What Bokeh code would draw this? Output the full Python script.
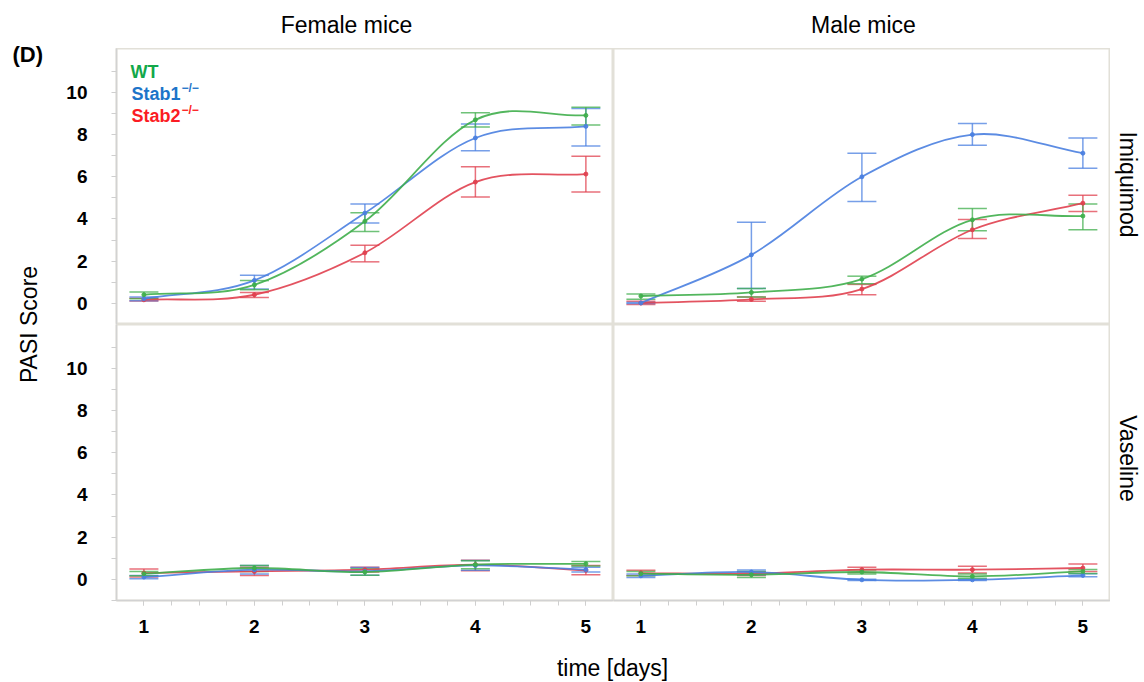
import math
from bokeh.plotting import figure
from bokeh.layouts import row, column
from bokeh.models import (Label, Range1d, SingleIntervalTicker, FixedTicker, Whisker,
                          TeeHead, ColumnDataSource)
from bokeh.embed import file_html
from bokeh.resources import INLINE

# ---------------- data ----------------
days = [1, 2, 3, 4, 5]
sexes = ["Female mice", "Male mice"]
treatments = ["Imiquimod", "Vaseline"]
groups = ["WT", "Stab1", "Stab2"]
y_ticks = [0, 2, 4, 6, 8, 10]
y_minor_ticks = [-1, 1, 3, 5, 7, 9, 11]

# Female, Imiquimod
wt_f_imq = [0.41, 0.88, 3.89, 8.70, 8.91]
wt_f_imq_lo = [0.22, 0.65, 3.41, 8.36, 8.45]
wt_f_imq_hi = [0.54, 1.08, 4.30, 9.04, 9.30]
s1_f_imq = [0.22, 1.09, 4.28, 7.84, 8.39]
s1_f_imq_lo = [0.12, 0.68, 3.81, 7.23, 7.46]
s1_f_imq_hi = [0.30, 1.33, 4.71, 8.50, 9.24]
s2_f_imq = [0.17, 0.41, 2.40, 5.75, 6.13]
s2_f_imq_lo = [0.11, 0.28, 1.97, 5.04, 5.28]
s2_f_imq_hi = [0.24, 0.52, 2.75, 6.48, 6.97]

# Male, Imiquimod
wt_m_imq = [0.35, 0.52, 1.15, 3.96, 4.14]
wt_m_imq_lo = [0.20, 0.30, 0.93, 3.44, 3.49]
wt_m_imq_hi = [0.44, 0.71, 1.29, 4.50, 4.71]
s1_m_imq = [0.02, 2.30, 6.00, 8.00, 7.12]
s1_m_imq_lo = [0.00, 0.71, 4.83, 7.50, 6.40]
s1_m_imq_hi = [0.04, 3.85, 7.12, 8.53, 7.84]
s2_m_imq = [0.02, 0.19, 0.68, 3.49, 4.75]
s2_m_imq_lo = [-0.05, 0.10, 0.41, 3.08, 4.35]
s2_m_imq_hi = [0.10, 0.30, 0.90, 3.98, 5.12]

# Female, Vaseline
wt_f_vas = [0.27, 0.54, 0.35, 0.70, 0.74]
wt_f_vas_lo = [0.17, 0.38, 0.20, 0.50, 0.63]
wt_f_vas_hi = [0.37, 0.66, 0.50, 0.88, 0.85]
s1_f_vas = [0.11, 0.46, 0.38, 0.66, 0.46]
s1_f_vas_lo = [0.03, 0.26, 0.20, 0.43, 0.35]
s1_f_vas_hi = [0.19, 0.66, 0.56, 0.89, 0.57]
s2_f_vas = [0.30, 0.38, 0.46, 0.70, 0.43]
s2_f_vas_lo = [0.11, 0.19, 0.35, 0.41, 0.22]
s2_f_vas_hi = [0.49, 0.57, 0.57, 0.91, 0.66]

# Male, Vaseline
wt_m_vas = [0.27, 0.22, 0.35, 0.14, 0.38]
wt_m_vas_lo = [0.17, 0.09, 0.25, 0.05, 0.28]
wt_m_vas_hi = [0.38, 0.38, 0.44, 0.25, 0.47]
s1_m_vas = [0.17, 0.35, -0.02, -0.02, 0.19]
s1_m_vas_lo = [0.09, 0.22, -0.05, -0.05, 0.12]
s1_m_vas_hi = [0.25, 0.44, 0.01, 0.01, 0.27]
s2_m_vas = [0.30, 0.27, 0.46, 0.46, 0.54]
s2_m_vas_lo = [0.19, 0.19, 0.33, 0.30, 0.38]
s2_m_vas_hi = [0.43, 0.35, 0.58, 0.62, 0.73]

line_colors = {"WT": "#3fae4b", "Stab1": "#4a7fe0", "Stab2": "#e0404f"}
legend_colors = {"WT": "#12a84a", "Stab1": "#1c74c9", "Stab2": "#fb1c24"}

FONT = "Liberation Sans"
X_RANGE = (0.752, 5.25)
Y_RANGE = (-1.0, 12.08)


def smooth_segments(xs, ys):
    n = len(xs)
    m = []
    for i in range(n):
        if i == 0:
            m.append((ys[1] - ys[0]) / (xs[1] - xs[0]))
        elif i == n - 1:
            m.append((ys[-1] - ys[-2]) / (xs[-1] - xs[-2]))
        else:
            m.append((ys[i + 1] - ys[i - 1]) / (xs[i + 1] - xs[i - 1]))
    d = dict(x0=[], y0=[], x1=[], y1=[], cx0=[], cy0=[], cx1=[], cy1=[])
    for i in range(n - 1):
        h = xs[i + 1] - xs[i]
        d["x0"].append(xs[i]); d["y0"].append(ys[i])
        d["x1"].append(xs[i + 1]); d["y1"].append(ys[i + 1])
        d["cx0"].append(xs[i] + h / 3); d["cy0"].append(ys[i] + m[i] * h / 3)
        d["cx1"].append(xs[i + 1] - h / 3); d["cy1"].append(ys[i + 1] - m[i + 1] * h / 3)
    return d


def style_axis(ax, standoff):
    ax.major_label_text_font = FONT
    ax.major_label_text_font_style = "bold"
    ax.major_label_text_font_size = "19px"
    ax.major_label_text_color = "black"
    ax.major_tick_in = 0
    ax.minor_tick_in = 0
    ax.major_tick_out = 5
    ax.minor_tick_out = 5
    ax.major_tick_line_color = "#cfcfcf"
    ax.minor_tick_line_color = "#cfcfcf"
    ax.axis_line_color = "#d2d2d2"
    ax.axis_line_width = 1.5
    ax.major_label_standoff = standoff


def make_panel(width, height, left, right, top, bottom, show_x, show_y):
    p = figure(width=width, height=height,
               x_range=Range1d(*X_RANGE), y_range=Range1d(*Y_RANGE),
               output_backend="svg", toolbar_location=None,
               min_border_left=left, min_border_right=right,
               min_border_top=top, min_border_bottom=bottom,
               x_axis_location="below" if show_x else None,
               y_axis_location="left" if show_y else None)
    p.grid.visible = False
    p.outline_line_color = "#e2e0d8"
    p.outline_line_width = 2
    p.background_fill_color = "white"
    p.border_fill_color = "white"
    if show_y:
        ax = p.yaxis[0]
        ax.ticker = FixedTicker(ticks=y_ticks, minor_ticks=y_minor_ticks)
        style_axis(ax, 24)
    if show_x:
        ax = p.xaxis[0]
        ax.ticker = SingleIntervalTicker(interval=1, num_minor_ticks=4)
        style_axis(ax, 14)
    return p


def draw_series(p, means, lo, hi, group):
    col = line_colors[group]
    seg = ColumnDataSource(smooth_segments(days, means))
    p.bezier(x0="x0", y0="y0", x1="x1", y1="y1", cx0="cx0", cy0="cy0",
             cx1="cx1", cy1="cy1", source=seg, line_color=col,
             line_width=1.8, line_alpha=0.9)
    src = ColumnDataSource(dict(x=days, m=means, lo=lo, hi=hi))
    w = Whisker(source=src, base="x", upper="hi", lower="lo",
                line_color=col, line_width=1.5, line_alpha=0.75,
                upper_head=TeeHead(size=29, line_color=col, line_width=1.5, line_alpha=0.75),
                lower_head=TeeHead(size=29, line_color=col, line_width=1.5, line_alpha=0.75))
    p.add_layout(w)
    p.scatter(x="x", y="m", source=src, size=4, color=col, alpha=0.9)


def lbl(p, x, y, text, size="23px", style="normal", color="black", angle=0.0,
        align="center", baseline="middle"):
    p.add_layout(Label(x=x, y=y, x_units="screen", y_units="screen", text=text,
                       text_font=FONT, text_font_size=size, text_font_style=style,
                       text_color=color, angle=angle, text_align=align,
                       text_baseline=baseline))


def blank(width, height):
    f = figure(width=width, height=height, x_axis_location=None, y_axis_location=None,
               toolbar_location=None, min_border=0, outline_line_color=None,
               output_backend="svg")
    f.grid.visible = False
    return f


FRAME_W, FRAME_H = 497, 276
LEFT_BORDER = 58
BOTTOM_BORDER = 44

tl = make_panel(LEFT_BORDER + FRAME_W, FRAME_H, LEFT_BORDER, 0, 0, 0, False, True)
tr = make_panel(FRAME_W, FRAME_H, 0, 0, 0, 0, False, False)
bl = make_panel(LEFT_BORDER + FRAME_W, FRAME_H + BOTTOM_BORDER, LEFT_BORDER, 0, 0, BOTTOM_BORDER, True, True)
br = make_panel(FRAME_W, FRAME_H + BOTTOM_BORDER, 0, 0, 0, BOTTOM_BORDER, True, False)

panel_data = [
    (tl, [(wt_f_imq, wt_f_imq_lo, wt_f_imq_hi, "WT"),
          (s1_f_imq, s1_f_imq_lo, s1_f_imq_hi, "Stab1"),
          (s2_f_imq, s2_f_imq_lo, s2_f_imq_hi, "Stab2")]),
    (tr, [(wt_m_imq, wt_m_imq_lo, wt_m_imq_hi, "WT"),
          (s1_m_imq, s1_m_imq_lo, s1_m_imq_hi, "Stab1"),
          (s2_m_imq, s2_m_imq_lo, s2_m_imq_hi, "Stab2")]),
    (bl, [(wt_f_vas, wt_f_vas_lo, wt_f_vas_hi, "WT"),
          (s1_f_vas, s1_f_vas_lo, s1_f_vas_hi, "Stab1"),
          (s2_f_vas, s2_f_vas_lo, s2_f_vas_hi, "Stab2")]),
    (br, [(wt_m_vas, wt_m_vas_lo, wt_m_vas_hi, "WT"),
          (s1_m_vas, s1_m_vas_lo, s1_m_vas_hi, "Stab1"),
          (s2_m_vas, s2_m_vas_lo, s2_m_vas_hi, "Stab2")]),
]
for p, series in panel_data:
    for order in ["Stab2", "Stab1", "WT"]:
        for means, lo, hi, g in series:
            if g == order:
                draw_series(p, means, lo, hi, g)

# legend (inside top-left panel)
lbl(tl, 14, 253, "WT", size="18px", style="bold", color=legend_colors["WT"], align="left")
lbl(tl, 15, 231, "Stab1", size="18px", style="bold", color=legend_colors["Stab1"], align="left")
lbl(tl, 65, 237, "\u2212/\u2212", size="12px", style="bold", color=legend_colors["Stab1"], align="left")
lbl(tl, 15, 209, "Stab2", size="18px", style="bold", color=legend_colors["Stab2"], align="left")
lbl(tl, 65, 215, "\u2212/\u2212", size="12px", style="bold", color=legend_colors["Stab2"], align="left")

# strips
TOP_H, BOT_H, RIGHT_W = 48, 38, 34
PANELS_W = LEFT_BORDER + 2 * FRAME_W            # 1052
PANELS_H = FRAME_H + FRAME_H + BOTTOM_BORDER    # 596
TOTAL_H = TOP_H + PANELS_H + BOT_H              # 682

left_strip = blank(58, TOTAL_H)
lbl(left_strip, 28, TOTAL_H - 324, "PASI Score", angle=math.pi / 2)
lbl(left_strip, 12, TOTAL_H - 54, "(D)", size="22px", style="bold", align="left")

top_strip = blank(PANELS_W + RIGHT_W, TOP_H)
lbl(top_strip, 346 - 58, 24, sexes[0])
lbl(top_strip, 863 - 58, 24, sexes[1])

right_strip = blank(RIGHT_W, PANELS_H)
lbl(right_strip, 17, PANELS_H - (184 - TOP_H), treatments[0], angle=-math.pi / 2)
lbl(right_strip, 17, PANELS_H - (458 - TOP_H), treatments[1], angle=-math.pi / 2)

bottom_strip = blank(PANELS_W + RIGHT_W, BOT_H)
lbl(bottom_strip, 612 - 58, 15, "time [days]")

panels = column(row(tl, tr), row(bl, br))
layout = row(left_strip,
             column(top_strip, row(panels, right_strip), bottom_strip))

open("out.html", "w").write(file_html(layout, INLINE))
